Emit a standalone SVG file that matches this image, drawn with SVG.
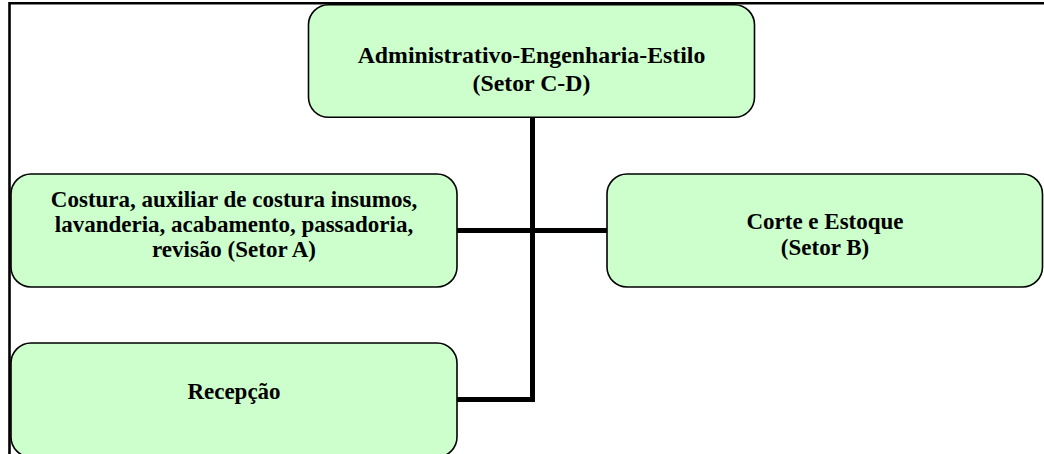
<svg xmlns="http://www.w3.org/2000/svg" width="1044" height="454" viewBox="0 0 1044 454">
<style>
.box{fill:#CCFFCC;stroke:#000;stroke-width:1.6}
.t{font-family:"Liberation Serif","Times New Roman",serif;font-weight:bold;font-size:23px;fill:#000;text-anchor:middle}
.big{font-size:23.8px}
.c{fill:none;stroke:#000;stroke-width:5;stroke-linejoin:miter}
</style>
<rect width="1044" height="454" fill="#fff"/>
<path d="M9.5,454 V3.2 H1044" fill="none" stroke="#000" stroke-width="2.6"/>
<g id="connectors">
<path class="c" d="M532.5,117 V399.5 H457"/>
<path class="c" d="M457,230.5 H607"/>
</g>
<g id="node-admin">
<rect class="box" x="308.5" y="4.8" width="446" height="112.5" rx="20"/>
<text class="t big" x="531.5" y="63">Administrativo-Engenharia-Estilo</text>
<text class="t big" x="531.5" y="90.5">(Setor C-D)</text>
</g>
<g id="node-costura">
<rect class="box" x="11" y="174" width="446" height="113" rx="20"/>
<text class="t" x="234" y="207">Costura, auxiliar de costura insumos,</text>
<text class="t" x="234" y="232">lavanderia, acabamento, passadoria,</text>
<text class="t" x="234" y="257">revisão (Setor A)</text>
</g>
<g id="node-corte">
<rect class="box" x="607" y="174" width="435.5" height="113" rx="20"/>
<text class="t" x="825" y="229">Corte e Estoque</text>
<text class="t" x="825" y="255">(Setor B)</text>
</g>
<g id="node-recepcao">
<rect class="box" x="11" y="343" width="446" height="114" rx="20"/>
<text class="t" x="234" y="399">Recepção</text>
</g>
</svg>
